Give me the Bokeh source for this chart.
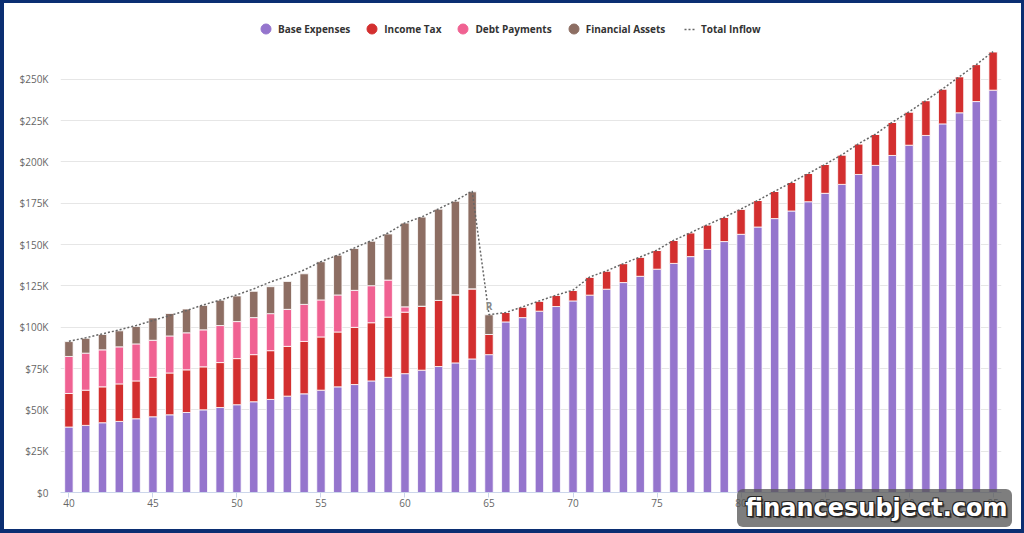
from bokeh.plotting import figure
from bokeh.models import (ColumnDataSource, Range1d, FixedTicker, Legend,
                          LegendItem, Label, Div)
from bokeh.layouts import column
from bokeh.embed import file_html
from bokeh.resources import INLINE

# ---- data (amounts in thousands of dollars) ----
ages = list(range(40, 96))

base_expenses = [
    39.6, 40.6, 42.2, 43.0, 44.6, 45.8, 47.0, 48.4, 50.0, 51.4,
    53.1, 54.9, 56.3, 58.3, 59.7, 61.9, 63.9, 65.3, 67.5, 69.7,
    71.9, 74.0, 76.2, 78.4, 80.8, 83.4,
    103.2, 105.8, 109.7, 112.5, 115.9, 119.4, 123.0, 127.0, 130.8, 135.1,
    138.6, 142.7, 147.1, 151.8, 156.2, 160.6, 165.7, 170.3, 175.9, 181.0,
    186.4, 192.4, 197.9, 203.9, 210.1, 216.0, 223.0, 229.7, 236.5, 243.4,
]

income_tax = [
    20.3, 21.3, 21.7, 22.7, 22.9, 23.9, 25.3, 25.8, 26.0, 27.2,
    27.9, 28.5, 29.5, 30.1, 31.7, 32.2, 33.2, 34.6, 35.2, 36.4,
    37.2, 38.7, 40.0, 41.2, 42.4, 12.2,
    5.7, 6.5, 6.2, 6.9, 6.5, 11.0, 11.1, 11.5, 11.7, 11.5,
    14.0, 14.5, 14.9, 14.7, 15.3, 16.1, 16.5, 17.3, 17.1, 17.5,
    17.9, 18.6, 18.9, 20.1, 20.2, 21.1, 21.2, 21.9, 22.4, 23.3,
]

debt_payments = [22.4] * 20 + [3.2] + [0.0] * 35

financial_assets = [
    9.0, 9.0, 9.3, 9.7, 10.5, 13.5, 13.6, 14.4, 14.8, 15.3,
    15.5, 15.9, 16.3, 16.9, 18.5, 23.1, 24.1, 25.3, 26.9, 27.9,
    50.7, 53.9, 55.2, 56.6, 58.7, 11.9,
] + [0.0] * 30

total_inflow = [
    91.5, 93.6, 96.0, 98.4, 101.0, 104.1, 107.0, 110.1, 113.5, 116.4,
    119.6, 123.2, 127.4, 130.8, 134.6, 139.7, 143.6, 148.0, 152.4, 157.0,
    163.1, 166.7, 171.6, 176.5, 182.3, 107.6,
    108.9, 112.3, 115.9, 119.4, 122.4, 130.4, 134.1, 138.5, 142.5, 146.6,
    152.6, 157.2, 162.0, 166.5, 171.5, 176.7, 182.2, 187.6, 193.0, 198.5,
    204.3, 211.0, 216.8, 224.0, 230.3, 237.1, 244.2, 251.6, 258.9, 266.7,
]

series_names = ["Base Expenses", "Income Tax", "Debt Payments", "Financial Assets"]
series_keys = ["base", "tax", "debt", "assets"]
series_colors = ["#9575cd", "#d32f2f", "#f06292", "#8d6e63"]

x_ticks = list(range(40, 96, 5))
y_ticks = [0, 25, 50, 75, 100, 125, 150, 175, 200, 225, 250]
y_tick_labels = ["$0", "$25K", "$50K", "$75K", "$100K", "$125K", "$150K",
                 "$175K", "$200K", "$225K", "$250K"]

retire_age = 65
retire_marker = "R"

# ---- figure ----
FONT = "Open Sans"
W, H = 1017, 526
px_per_k = 1.653
frame_h = 480

source = ColumnDataSource(dict(age=ages, base=base_expenses, tax=income_tax,
                               debt=debt_payments, assets=financial_assets))

p = figure(width=W, height=H, output_backend="svg", toolbar_location=None,
           x_range=Range1d(39.5, 95.5), y_range=Range1d(0, frame_h / px_per_k),
           min_border_left=56, min_border_right=20, min_border_top=9,
           min_border_bottom=37, styles={"background-color": "white"})
p.background_fill_color = "white"
p.border_fill_color = "white"
p.outline_line_color = None

bars = p.vbar_stack(series_keys, x="age", width=0.5, source=source,
                    color=series_colors, line_color="white", line_width=0.8)

inflow_line = p.line(ages, total_inflow, line_color="#666666", line_width=1.5,
                     line_dash="2 2")

# legend markers drawn as circles (a single off-chart point each)
nan = float("nan")
markers = []
for c in series_colors:
    markers.append(p.scatter(x=[nan], y=[nan], marker="circle", size=10,
                             fill_color=c, line_color=c))

legend_style = dict(orientation="horizontal", border_line_color=None,
                    background_fill_alpha=0, label_text_font=FONT,
                    label_text_font_style="bold", label_text_font_size="10px",
                    label_text_color="#333333", padding=0, margin=0)

series_legend = Legend(
    items=[LegendItem(label=n, renderers=[m]) for n, m in zip(series_names, markers)],
    location=(193, 451), glyph_width=25, glyph_height=25, label_standoff=0,
    spacing=9, **legend_style)
line_legend = Legend(
    items=[LegendItem(label="Total Inflow", renderers=[inflow_line])],
    location=(624, 456), glyph_width=11, glyph_height=12, label_standoff=6,
    **legend_style)
p.add_layout(series_legend)
p.add_layout(line_legend)

# axes
p.xaxis.ticker = FixedTicker(ticks=x_ticks)
p.xaxis.axis_line_color = "#ccd6eb"
p.xaxis.major_tick_line_color = "#ccd6eb"
p.xaxis.major_tick_out = 5
p.xaxis.major_tick_in = 0
p.xaxis.minor_tick_line_color = None
p.xaxis.major_label_text_font = FONT
p.xaxis.major_label_text_font_size = "10px"
p.xaxis.major_label_text_color = "#666666"
p.xaxis.major_label_standoff = 1

p.yaxis.ticker = FixedTicker(ticks=y_ticks)
p.yaxis.major_label_overrides = {t: s for t, s in zip(y_ticks, y_tick_labels)}
p.yaxis.axis_line_color = None
p.yaxis.major_tick_line_color = None
p.yaxis.minor_tick_line_color = None
p.yaxis.major_tick_out = 0
p.yaxis.major_tick_in = 0
p.yaxis.major_label_text_font = FONT
p.yaxis.major_label_text_font_size = "10px"
p.yaxis.major_label_text_color = "#666666"
p.yaxis.major_label_standoff = 12

p.xgrid.visible = False
p.ygrid.grid_line_color = "#e6e6e6"

# retirement marker above the bar at retirement age
p.add_layout(Label(x=retire_age, y=total_inflow[ages.index(retire_age)] + 5,
                   text=retire_marker, text_font=FONT, text_font_size="10px",
                   text_font_style="bold", text_color="#888888",
                   text_align="center", text_baseline="middle"))

# site badge over the lower right corner
badge = Div(
    text="financesubject.com", margin=0,
    styles={
        "position": "absolute", "left": "737px", "top": "489px",
        "z-index": "10", "width": "275px", "height": "38px",
        "box-sizing": "border-box", "text-align": "center",
        "line-height": "38px", "font-family": "DejaVu Sans",
        "font-weight": "bold", "font-size": "24px", "color": "white",
        "padding-left": "4px",
        "background-color": "rgba(85,85,85,0.76)", "border-radius": "6px",
        "text-shadow": "1px 1px 0 #222, -1px -1px 0 #222, 1px -1px 0 #222, -1px 1px 0 #222, 2px 2px 1px #333",
    },
)

page = column(p, badge, styles={"background-color": "#0b2e72",
                                "position": "relative",
                                "padding": "3px 3px 4px 4px"})

open("out.html", "w").write(file_html(page, INLINE))
